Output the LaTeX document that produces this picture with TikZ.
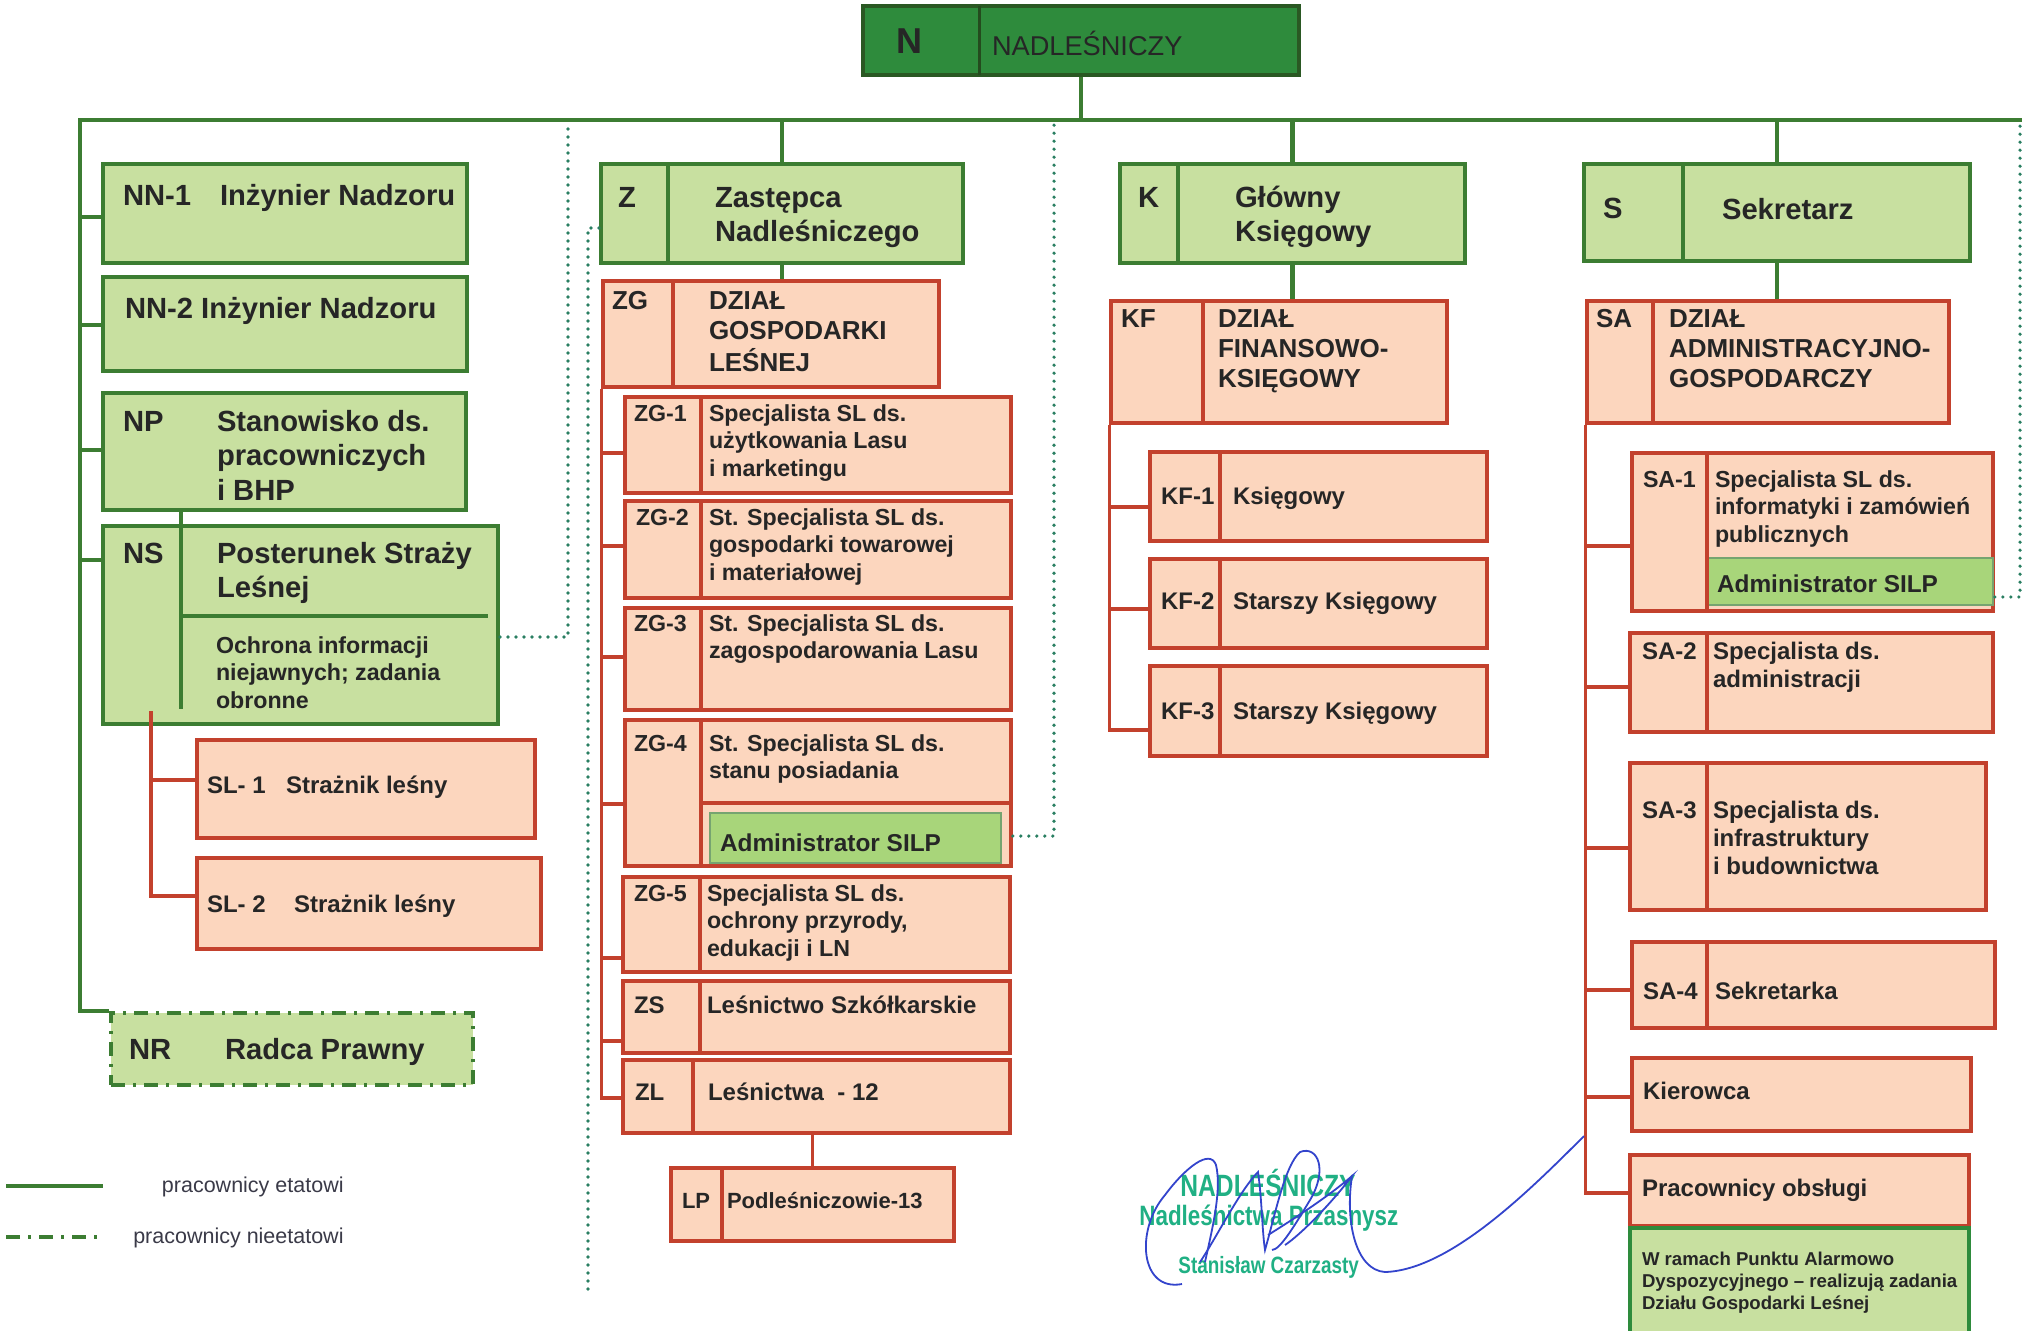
\documentclass[tikz,border=0pt]{standalone}
\usepackage{fontspec}
\setmainfont{Liberation Sans}
\newfontfamily\condfont[FakeStretch=0.8]{Liberation Sans}
\usetikzlibrary{fit}
\definecolor{lgreen}{HTML}{C8E0A0}
\definecolor{bgreen}{HTML}{3C7D32}
\definecolor{ngreen}{HTML}{2E8B3C}
\definecolor{peach}{HTML}{FCD6BE}
\definecolor{bred}{HTML}{C3412D}
\definecolor{agreen}{HTML}{A8D57A}
\definecolor{txt}{HTML}{262626}
\definecolor{lgtxt}{HTML}{3A3A48}
\definecolor{dotc}{HTML}{2A7F62}
\definecolor{stampc}{HTML}{20B084}
\definecolor{sigc}{HTML}{3344CC}
\newcommand\bx[6]{\node[#1, fit={(#3,#4) (#5,#6)}] (#2) {};}
\newcommand\ml[1]{\begin{tabular}[t]{@{}l@{}}#1\end{tabular}}
\begin{document}
\begin{tikzpicture}[x=0.5pt,y=-0.5pt,
  gbox/.style={draw=bgreen, fill=lgreen, line width=2pt, inner sep=0pt},
  rbox/.style={draw=bred, fill=peach, line width=1.8pt, inner sep=0pt},
  abox/.style={draw=bgreen!70, fill=agreen, line width=1.2pt, inner sep=0pt},
  nbox/.style={draw=bgreen!70!black, fill=ngreen, line width=2pt, inner sep=0pt},
  nrbox/.style={draw=bgreen, fill=lgreen, line width=2pt, inner sep=0pt, dash pattern=on 7pt off 4pt on 1.5pt off 4pt},
  notebox/.style={draw=ngreen, fill=lgreen, line width=2pt, inner sep=0pt},
  gline/.style={draw=bgreen, line width=2.3pt},
  rline/.style={draw=bred, line width=1.7pt},
  gdiv/.style={draw=bgreen, line width=2pt},
  rdiv/.style={draw=bred, line width=1.8pt},
  dotl/.style={draw=dotc, line width=1.8pt, dash pattern=on 0pt off 4pt, line cap=round},
  tx/.style={inner sep=0pt, outer sep=0pt, anchor=base west, text=txt},
  big/.style={tx, font=\bfseries\fontsize{14.6}{17.4}\selectfont},
  dept/.style={tx, font=\bfseries\fontsize{13}{15.2}\selectfont},
  sm/.style={tx, font=\bfseries\fontsize{11.6}{13.8}\selectfont},
  md/.style={tx, font=\bfseries\fontsize{12}{14}\selectfont},
  adm/.style={tx, font=\bfseries\fontsize{12.2}{14}\selectfont},
  nt/.style={tx, font=\bfseries\fontsize{9.3}{11}\selectfont},
  lg/.style={inner sep=0pt, anchor=base east, text=lgtxt, font=\fontsize{10.75}{12}\selectfont},
  st/.style={inner sep=0pt, anchor=base west, text=stampc},
  sig/.style={draw=sigc, line width=0.9pt}
]
\useasboundingbox (0,0) rectangle (2028,1330);
\fill[white] (0,0) rectangle (2028,1330);

% ---------- boxes ----------
\bx{nbox}{N}{863}{6}{1299}{75}
\bx{gbox}{NN1}{103}{164}{467}{263}
\bx{gbox}{NN2}{103}{277}{467}{371}
\bx{gbox}{NP}{103}{393}{466}{510}
\bx{gbox}{NS}{103}{526}{498}{724}
\bx{rbox}{SL1}{197}{740}{535}{838}
\bx{rbox}{SL2}{197}{858}{541}{949}
\bx{nrbox}{NR}{111}{1013}{473}{1085}
\bx{gbox}{Z}{601}{164}{963}{263}
\bx{rbox}{ZG}{603}{281}{939}{387}
\bx{rbox}{ZG1}{625}{397}{1011}{493}
\bx{rbox}{ZG2}{625}{501}{1011}{598}
\bx{rbox}{ZG3}{625}{608}{1011}{710}
\bx{rbox}{ZG4}{625}{720}{1011}{866}
\bx{abox}{AdmZ}{710}{813}{1001}{863}
\bx{rbox}{ZG5}{623}{877}{1010}{972}
\bx{rbox}{ZS}{623}{981}{1010}{1053}
\bx{rbox}{ZL}{623}{1060}{1010}{1133}
\bx{rbox}{LP}{671}{1168}{954}{1241}
\bx{gbox}{K}{1120}{164}{1465}{263}
\bx{rbox}{KF}{1111}{301}{1447}{423}
\bx{rbox}{KF1}{1150}{452}{1487}{541}
\bx{rbox}{KF2}{1150}{559}{1487}{648}
\bx{rbox}{KF3}{1150}{666}{1487}{756}
\bx{gbox}{S}{1584}{164}{1970}{261}
\bx{rbox}{SA}{1587}{301}{1949}{423}
\bx{rbox}{SA1}{1632}{453}{1993}{611}
\bx{abox}{AdmS}{1707}{558}{1993}{605}
\bx{rbox}{SA2}{1630}{633}{1993}{732}
\bx{rbox}{SA3}{1630}{763}{1986}{910}
\bx{rbox}{SA4}{1632}{942}{1995}{1028}
\bx{rbox}{Kier}{1632}{1058}{1971}{1131}
\bx{rbox}{Prac}{1630}{1155}{1969}{1226}
\bx{notebox}{Note}{1630}{1228}{1969}{1345}

% ---------- dividers inside boxes ----------
\draw[draw=bgreen!60!black, line width=1.5pt] (979,6) -- (979,75);
\draw[gdiv] (668,164) -- (668,263);
\draw[gdiv] (1178,164) -- (1178,263);
\draw[gdiv] (1683,164) -- (1683,261);
\draw[gdiv] (181,510) -- (181,709);
\draw[gdiv] (181,616) -- (488,616);
\draw[rdiv] (673,281) -- (673,387);
\draw[rdiv] (701,397) -- (701,493);
\draw[rdiv] (701,501) -- (701,598);
\draw[rdiv] (701,608) -- (701,710);
\draw[rdiv] (701,720) -- (701,866);
\draw[rdiv] (701,803) -- (1011,803);
\draw[rdiv] (700,877) -- (700,972);
\draw[rdiv] (700,981) -- (700,1053);
\draw[rdiv] (693,1060) -- (693,1133);
\draw[rdiv] (722,1168) -- (722,1241);
\draw[rdiv] (1203,301) -- (1203,423);
\draw[rdiv] (1220,452) -- (1220,541);
\draw[rdiv] (1220,559) -- (1220,648);
\draw[rdiv] (1220,666) -- (1220,756);
\draw[rdiv] (1653,301) -- (1653,423);
\draw[rdiv] (1707,453) -- (1707,611);
\draw[rdiv] (1707,633) -- (1707,732);
\draw[rdiv] (1707,763) -- (1707,910);
\draw[rdiv] (1707,942) -- (1707,1028);

% ---------- green connectors ----------
\coordinate (busL) at (80,120);
\coordinate (busR) at (2022,120);
\draw[gline] (NR.north west) -| (busL) -- (busR);
\draw[gline] (N.south) -- (N.south |- busL);
\draw[gline] (busL) |- (NN1.west |- 0,217);
\draw[gline] (busL) |- (NN2.west |- 0,325);
\draw[gline] (busL) |- (NP.west |- 0,450);
\draw[gline] (busL) |- (NS.west |- 0,560);
\draw[gline] (Z.north) -- (Z.north |- busL);
\draw[gline] (K.north) -- (K.north |- busL);
\draw[gline] (S.north) -- (S.north |- busL);
\draw[gline] (Z.south) -- (Z.south |- ZG.north);
\draw[gline] (K.south) -- (K.south |- KF.north);
\draw[gline] (S.south) -- (S.south |- SA.north);

% ---------- red connectors ----------
\coordinate (slTop) at (151,711);
\draw[rline] (slTop) |- (SL1.west |- 0,780);
\draw[rline] (slTop) |- (SL2.west |- 0,896);
\draw[rline] (ZG.south west) |- (ZG1.west |- 0,453);
\draw[rline] (ZG.south west) |- (ZG2.west |- 0,546);
\draw[rline] (ZG.south west) |- (ZG3.west |- 0,657);
\draw[rline] (ZG.south west) |- (ZG4.west |- 0,804);
\draw[rline] (ZG.south west) |- (ZG5.west |- 0,958);
\draw[rline] (ZG.south west) |- (ZS.west |- 0,1041);
\draw[rline] (ZG.south west) |- (ZL.west |- 0,1098);
\draw[rline] (ZL.south -| LP.north) -- (LP.north);
\draw[rline] (KF.south west) |- (KF1.west |- 0,507);
\draw[rline] (KF.south west) |- (KF2.west |- 0,609);
\draw[rline] (KF.south west) |- (KF3.west |- 0,730);
\draw[rline] (SA.south west) |- (SA1.west |- 0,546);
\draw[rline] (SA.south west) |- (SA2.west |- 0,687);
\draw[rline] (SA.south west) |- (SA3.west |- 0,848);
\draw[rline] (SA.south west) |- (SA4.west |- 0,990);
\draw[rline] (SA.south west) |- (Kier.west |- 0,1097);
\draw[rline] (SA.south west) |- (Prac.west |- 0,1193);

% ---------- dotted (non-staff) connectors ----------
\coordinate (d1) at (568,125);
\coordinate (d2) at (588,1291);
\coordinate (d3) at (1054,125);
\coordinate (d4) at (2020,125);
\draw[dotl] (NS.east |- 0,637) -| (d1);
\draw[dotl] (Z.west |- 0,228) -| (d2);
\draw[dotl] (ZG4.east |- 0,836) -| (d3);
\draw[dotl] (SA1.east |- 0,597) -| (d4);

% ---------- texts ----------
\node[tx, font=\bfseries\fontsize{18}{20}\selectfont] (tN) at (896,53) {N};
\node[tx, font=\fontsize{13.6}{15}\selectfont] (tNt) at (992,55) {NADLEŚNICZY};

\node[big] (tNN1) at (123,205) {NN-1};
\node[big] (tNN1b) at (220,205) {Inżynier Nadzoru};
\node[big] (tNN2) at (125,318) {NN-2 Inżynier Nadzoru};
\node[big] (tNP) at (123,431) {NP};
\node[big] (tNPb) at (217,431) {\ml{Stanowisko ds.\\pracowniczych\\i BHP}};
\node[big] (tNS) at (123,563) {NS};
\node[big] (tNSb) at (217,563) {\ml{Posterunek Straży\\Leśnej}};
\node[sm] (tNSc) at (216,653) {\ml{Ochrona informacji\\niejawnych; zadania\\obronne}};
\node[md] (tSL1) at (207,793) {SL- 1};
\node[md] (tSL1b) at (286,793) {Strażnik leśny};
\node[md] (tSL2) at (207,912) {SL- 2};
\node[md] (tSL2b) at (294,912) {Strażnik leśny};
\node[big] (tNR) at (129,1059) {NR};
\node[big] (tNRb) at (225,1059) {Radca Prawny};

\node[big] (tZ) at (618,207) {Z};
\node[big] (tZb) at (715,207) {\ml{Zastępca\\Nadleśniczego}};
\node[dept] (tZG) at (612,309) {ZG};
\node[dept] (tZGb) at (709,309) {\ml{DZIAŁ\\GOSPODARKI\\LEŚNEJ}};
\node[sm] (tZG1) at (634,421) {ZG-1};
\node[sm] (tZG1b) at (709,421) {\ml{Specjalista SL ds.\\użytkowania Lasu\\i marketingu}};
\node[sm] (tZG2) at (636,525) {ZG-2};
\node[sm] (tZG2b) at (709,525) {\ml{St. Specjalista SL ds.\\gospodarki towarowej\\i materiałowej}};
\node[sm] (tZG3) at (634,631) {ZG-3};
\node[sm] (tZG3b) at (709,631) {\ml{St. Specjalista SL ds.\\zagospodarowania Lasu}};
\node[sm] (tZG4) at (634,751) {ZG-4};
\node[sm] (tZG4b) at (709,751) {\ml{St. Specjalista SL ds.\\stanu posiadania}};
\node[adm] (tAdmZ) at (720,851) {Administrator SILP};
\node[sm] (tZG5) at (634,901) {ZG-5};
\node[sm] (tZG5b) at (707,901) {\ml{Specjalista SL ds.\\ochrony przyrody,\\edukacji i LN}};
\node[md] (tZS) at (634,1013) {ZS};
\node[md] (tZSb) at (707,1013) {Leśnictwo Szkółkarskie};
\node[md] (tZL) at (635,1100) {ZL};
\node[md] (tZLb) at (708,1100) {Leśnictwa\ \ - 12};
\node[tx, font=\bfseries\fontsize{11}{13}\selectfont] (tLP) at (682,1208) {LP};
\node[tx, font=\bfseries\fontsize{11}{13}\selectfont] (tLPb) at (727,1208) {Podleśniczowie-13};

\node[big] (tK) at (1138,207) {K};
\node[big] (tKb) at (1235,207) {\ml{Główny\\Księgowy}};
\node[dept] (tKF) at (1121,327) {KF};
\node[dept] (tKFb) at (1218,327) {\ml{DZIAŁ\\FINANSOWO-\\KSIĘGOWY}};
\node[md] (tKF1) at (1161,504) {KF-1};
\node[md] (tKF1b) at (1233,504) {Księgowy};
\node[md] (tKF2) at (1161,609) {KF-2};
\node[md] (tKF2b) at (1233,609) {Starszy Księgowy};
\node[md] (tKF3) at (1161,719) {KF-3};
\node[md] (tKF3b) at (1233,719) {Starszy Księgowy};

\node[big] (tS) at (1603,218) {S};
\node[big] (tSb) at (1722,219) {Sekretarz};
\node[dept] (tSA) at (1596,327) {SA};
\node[dept] (tSAb) at (1669,327) {\ml{DZIAŁ\\ADMINISTRACYJNO-\\GOSPODARCZY}};
\node[sm] (tSA1) at (1643,487) {SA-1};
\node[sm] (tSA1b) at (1715,487) {\ml{Specjalista SL ds.\\informatyki i zamówień\\publicznych}};
\node[adm] (tAdmS) at (1717,592) {Administrator SILP};
\node[md] (tSA2) at (1642,659) {SA-2};
\node[md] (tSA2b) at (1713,659) {\ml{Specjalista ds.\\administracji}};
\node[md] (tSA3) at (1642,818) {SA-3};
\node[md] (tSA3b) at (1713,818) {\ml{Specjalista ds.\\infrastruktury\\i budownictwa}};
\node[md] (tSA4) at (1643,999) {SA-4};
\node[md] (tSA4b) at (1715,999) {Sekretarka};
\node[md] (tKier) at (1643,1099) {Kierowca};
\node[md] (tPrac) at (1642,1196) {Pracownicy obsługi};
\node[nt] (tNote) at (1642,1265) {\ml{W ramach Punktu Alarmowo\\Dyspozycyjnego – realizują zadania\\Działu Gospodarki Leśnej}};

% ---------- legend ----------
\coordinate (lg1a) at (6,1186);
\coordinate (lg1b) at (103,1186);
\coordinate (lg2a) at (6,1237);
\coordinate (lg2b) at (103,1237);
\draw[gline] (lg1a) -- (lg1b);
\draw[gline, dash pattern=on 7pt off 4pt on 1.5pt off 4pt] (lg2a) -- (lg2b);
\node[lg] (tLg1) at (344,1192) {pracownicy etatowi};
\node[lg] (tLg2) at (344,1243) {pracownicy nieetatowi};

% ---------- stamp and signature ----------
\node[st, font=\condfont\bfseries\fontsize{15.4}{17}\selectfont] (stamp1) at (1180,1196) {NADLEŚNICZY};
\node[st, font=\condfont\bfseries\fontsize{14}{16}\selectfont] (stamp2) at (1139,1225) {Nadleśnictwa Przasnysz};
\node[st, font=\condfont\bfseries\fontsize{11.8}{13}\selectfont] (stamp3) at (1178,1273) {Stanisław Czarzasty};
\draw[sig] (1182,1284) .. controls (1140,1292) and (1135,1230) .. (1165,1195)
  .. controls (1185,1168) and (1210,1148) .. (1216,1165)
  .. controls (1222,1190) and (1212,1230) .. (1205,1262);
\draw[sig] (1200,1262) .. controls (1215,1240) and (1240,1190) .. (1258,1172)
  .. controls (1262,1200) and (1262,1230) .. (1265,1250)
  .. controls (1275,1215) and (1285,1165) .. (1300,1152)
  .. controls (1318,1145) and (1328,1170) .. (1310,1200)
  .. controls (1295,1225) and (1280,1250) .. (1272,1250);
\draw[sig] (1268,1235) .. controls (1300,1215) and (1330,1195) .. (1352,1176)
  .. controls (1330,1205) and (1300,1235) .. (1285,1245);
\draw[sig] (1352,1176) .. controls (1345,1220) and (1355,1270) .. (1385,1272)
  .. controls (1450,1270) and (1530,1190) .. (1584,1136);
\end{tikzpicture}
\end{document}
